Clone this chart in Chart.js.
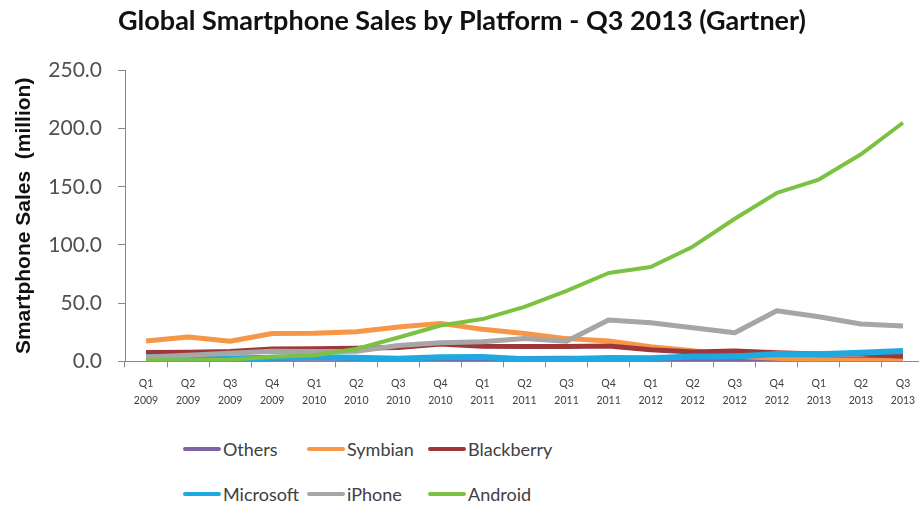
<!DOCTYPE html>
<html>
<head>
<meta charset="utf-8">
<script src="https://cdn.jsdelivr.net/npm/chart.js@4"></script>
<style>
  html, body { margin: 0; padding: 0; background: #fff; overflow: hidden; }
  #wrap { position: relative; width: 926px; height: 506px; }
  #box { position: absolute; left: 0; top: 0; width: 926px; height: 424px; }
  #legend { position: absolute; left: 183px; top: 437px; display: grid;
            grid-template-columns: 124px 121px 140px; row-gap: 21px;
            font-family: Lato, "Liberation Sans", sans-serif; font-size: 18px; color: #404040; }
  .item { display: flex; align-items: center; height: 24px; white-space: nowrap; }
  .sw { display: inline-block; width: 38px; height: 4px; border-radius: 2px; margin-right: 2px; }
</style>
</head>
<body>
<div id="wrap">
  <div id="box"><canvas id="c"></canvas></div>
  <div id="legend"></div>
</div>
<script>
const quarters = ["Q1","Q2","Q3","Q4","Q1","Q2","Q3","Q4","Q1","Q2","Q3","Q4","Q1","Q2","Q3","Q4","Q1","Q2","Q3"];
const years = ["2009","2009","2009","2009","2010","2010","2010","2010","2011","2011","2011","2011","2012","2012","2012","2012","2013","2013","2013"];
const yTicks = [0, 50, 100, 150, 200, 250];

const others     = [2.0, 1.9, 2.2, 2.4, 2.6, 2.3, 2.5, 2.5, 2.2, 2.4, 2.6, 2.5, 2.2, 1.9, 2.0, 2.3, 2.0, 1.8, 1.6];
const symbian    = [17.5, 20.8, 17.3, 23.9, 24.1, 25.4, 29.5, 32.6, 27.6, 23.9, 19.5, 17.5, 12.5, 9.1, 4.4, 2.6, 1.3, 0.6, 0.5];
const blackberry = [7.5, 7.7, 8.5, 10.5, 10.8, 11.2, 11.9, 14.8, 13.0, 12.7, 12.7, 13.2, 9.9, 7.9, 8.9, 7.3, 6.2, 6.2, 4.4];
const microsoft  = [3.7, 3.0, 2.5, 3.0, 3.7, 3.1, 2.2, 3.4, 3.6, 1.7, 1.7, 2.8, 2.7, 4.1, 4.1, 6.2, 6.0, 7.4, 8.9];
const iphone     = [3.8, 5.3, 7.0, 8.7, 8.4, 8.7, 13.5, 16.0, 16.9, 19.6, 17.3, 35.5, 33.1, 28.9, 24.5, 43.5, 38.3, 32.0, 30.3];
const android    = [1.0, 0.8, 1.4, 4.0, 5.2, 10.6, 20.5, 30.8, 36.3, 46.8, 60.5, 75.9, 81.1, 98.5, 122.5, 144.7, 156.2, 177.9, 205.0];

const labels = quarters.map((q, i) => [q, years[i]]);

function ds(label, data, color, order, width) {
  return { label, data, borderColor: color, backgroundColor: color, borderWidth: width,
           pointRadius: 0, pointHoverRadius: 0, tension: 0, order,
           borderJoinStyle: 'round', borderCapStyle: 'butt', fill: false };
}

const chart = new Chart(document.getElementById('c'), {
  type: 'line',
  data: {
    labels,
    datasets: [
      ds('Others', others, '#7E63A3', 6, 5),
      ds('Symbian', symbian, '#F79646', 5, 5),
      ds('Blackberry', blackberry, '#9E3838', 4, 5),
      ds('Microsoft', microsoft, '#1EA9E1', 3, 6),
      ds('iPhone', iphone, '#A6A6A6', 2, 5),
      ds('Android', android, '#7CC242', 1, 4)
    ]
  },
  options: {
    responsive: true,
    maintainAspectRatio: false,
    animation: false,
    layout: { padding: { left: 0, right: 2, top: 0, bottom: 7 } },
    plugins: {
      legend: { display: false },
      tooltip: { enabled: false },
      title: {
        display: true,
        text: 'Global Smartphone Sales by Platform - Q3 2013 (Gartner)',
        color: '#111',
        font: { family: 'Lato, "Liberation Sans", sans-serif', size: 27, weight: 'bold' },
        padding: { top: 5, bottom: 33 }
      }
    },
    scales: {
      x: {
        offset: true,
        grid: { display: true, drawOnChartArea: false, drawTicks: true, tickLength: 6, color: '#888', offset: true },
        border: { display: true, color: '#888', width: 1 },
        ticks: { autoSkip: false, maxRotation: 0, minRotation: 0, padding: 7, color: '#404040',
                 font: { family: 'Lato, "Liberation Sans", sans-serif', size: 10.5, lineHeight: 1.7 } }
      },
      y: {
        min: 0, max: 250,
        afterBuildTicks: (axis) => { axis.ticks = yTicks.map(v => ({ value: v })); },
        afterFit: (axis) => { axis.width = 125; },
        grid: { display: true, drawOnChartArea: false, drawTicks: true, tickLength: 7, color: '#888' },
        border: { display: true, color: '#888', width: 1 },
        ticks: { padding: 16, color: '#505050', callback: (v) => Number(v).toFixed(1),
                 font: { family: 'Lato, "Liberation Sans", sans-serif', size: 21 } },
        title: { display: true, text: 'Smartphone Sales  (million)', color: '#111',
                 font: { family: '"Liberation Sans", Arial, sans-serif', size: 21, weight: 'bold' },
                 padding: { top: 12, bottom: 0 } }
      }
    }
  }
});

// HTML legend built from the chart's datasets
const leg = document.getElementById('legend');
chart.data.datasets.forEach(d => {
  const it = document.createElement('div'); it.className = 'item';
  const sw = document.createElement('span'); sw.className = 'sw'; sw.style.background = d.borderColor;
  const tx = document.createElement('span'); tx.textContent = d.label;
  it.appendChild(sw); it.appendChild(tx); leg.appendChild(it);
});
</script>
</body>
</html>
